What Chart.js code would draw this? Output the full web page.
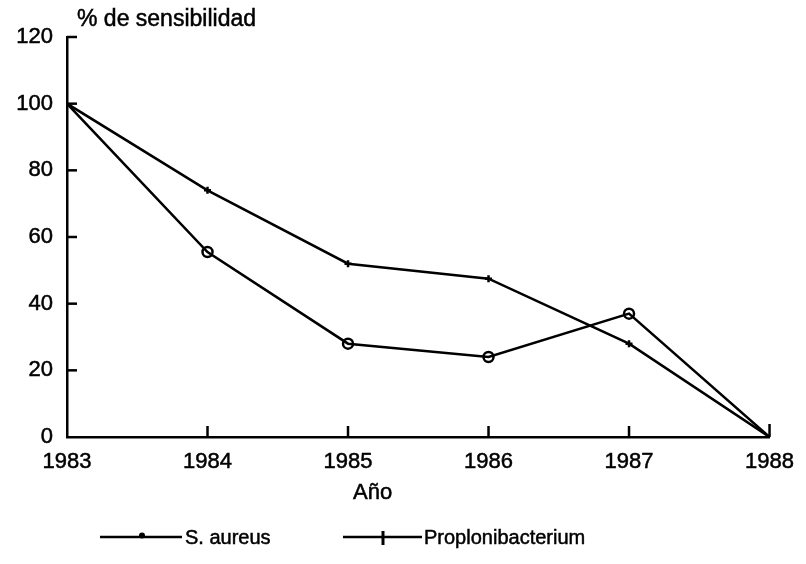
<!DOCTYPE html>
<html><head><meta charset="utf-8">
<script src="https://cdn.jsdelivr.net/npm/chart.js@4.4.0/dist/chart.umd.min.js"></script>
<style>html,body{margin:0;padding:0;background:#fff}#wrap{width:806px;height:564px}</style>
</head><body><div id="wrap"><canvas id="c" width="806" height="564"></canvas></div>
<script>
const years = [1983, 1984, 1985, 1986, 1987, 1988];
const sAureus = [100, 55.5, 28, 24, 37, 0];
const propioni = [100, 74, 52, 47.5, 28, 0];
const yTicks = [0, 20, 40, 60, 80, 100, 120];
const seriesNames = ['S. aureus', 'Proplonibacterium'];
const yTitle = '% de sensibilidad';
const xTitle = 'Año';

const FAM = '"Liberation Sans", Arial, Helvetica, sans-serif';

function boldText(ctx, txt, x, y) {
  ctx.lineWidth = 0.5;
  ctx.strokeText(txt, x, y);
  ctx.fillText(txt, x, y);
}

const decor = {
  id: 'decor',
  afterDraw(chart) {
    const ctx = chart.ctx;
    const xs = chart.scales.x, ys = chart.scales.y;
    const area = chart.chartArea;
    ctx.save();
    ctx.strokeStyle = '#000';
    ctx.fillStyle = '#000';
    ctx.lineWidth = 2.5;
    // inside tick marks on y axis
    yTicks.forEach(v => {
      if (v === 0) return;
      const y = ys.getPixelForValue(v);
      ctx.beginPath(); ctx.moveTo(area.left, y); ctx.lineTo(area.left + 10, y); ctx.stroke();
    });
    // inside tick marks on x axis
    years.forEach((v, i) => {
      if (i === 0) return;
      const x = xs.getPixelForValue(v);
      const len = i === years.length - 1 ? 13 : 11;
      ctx.beginPath(); ctx.moveTo(x, area.bottom); ctx.lineTo(x, area.bottom - len); ctx.stroke();
    });
    // titles
    ctx.font = '23px ' + FAM;
    ctx.textBaseline = 'alphabetic';
    ctx.textAlign = 'left';
    boldText(ctx, yTitle, area.left + 10, 26);
    ctx.font = '22px ' + FAM;
    boldText(ctx, xTitle, 353, 499);
    // legend
    const ly = 537;
    ctx.lineWidth = 2.5;
    ctx.beginPath(); ctx.moveTo(100, ly); ctx.lineTo(182, ly); ctx.stroke();
    ctx.beginPath(); ctx.arc(142, ly - 1.5, 3, 0, Math.PI * 2); ctx.fill();
    ctx.beginPath(); ctx.moveTo(343, ly); ctx.lineTo(422, ly); ctx.stroke();
    ctx.lineWidth = 3;
    ctx.beginPath(); ctx.moveTo(383, ly - 6); ctx.lineTo(383, ly + 8); ctx.stroke();
    ctx.font = '20px ' + FAM;
    boldText(ctx, seriesNames[0], 185, ly + 7);
    boldText(ctx, seriesNames[1], 424, ly + 7);
    ctx.restore();
  }
};

const tickFont = { size: 22, family: FAM };

new Chart(document.getElementById('c'), {
  type: 'line',
  data: {
    datasets: [
      {
        label: seriesNames[0],
        data: years.map((x, i) => ({x, y: sAureus[i]})),
        borderColor: '#000', borderWidth: 2.5, tension: 0, fill: false,
        pointStyle: 'circle',
        pointRadius: [0, 5, 5, 5, 5, 0],
        pointBorderWidth: 2.5,
        pointBorderColor: '#000',
        pointBackgroundColor: 'rgba(0,0,0,0)'
      },
      {
        label: seriesNames[1],
        data: years.map((x, i) => ({x, y: propioni[i]})),
        borderColor: '#000', borderWidth: 2.5, tension: 0, fill: false,
        pointStyle: 'cross',
        pointRadius: [0, 3.5, 3.5, 3.5, 3.5, 0],
        pointBorderWidth: 2.5,
        pointBorderColor: '#000',
        pointBackgroundColor: '#000'
      }
    ]
  },
  options: {
    responsive: false,
    animation: false,
    devicePixelRatio: 1,
    layout: { padding: { left: 0, right: 29, top: 37, bottom: 0 } },
    plugins: { legend: { display: false }, tooltip: { enabled: false }, title: { display: false } },
    scales: {
      x: {
        type: 'linear', min: years[0], max: years[years.length - 1],
        afterFit(s) { s.height = 127; },
        grid: { display: true, drawOnChartArea: false, drawTicks: false, color: '#000' },
        border: { display: true, color: '#000', width: 2.5 },
        ticks: { stepSize: 1, padding: 12, color: '#000', font: tickFont,
                 textStrokeColor: '#000', textStrokeWidth: 0.5,
                 callback: v => String(v), maxRotation: 0, autoSkip: false }
      },
      y: {
        min: yTicks[0], max: yTicks[yTicks.length - 1],
        afterFit(s) { s.width = 67; },
        afterBuildTicks(s) { s.ticks = yTicks.map(v => ({value: v})); },
        grid: { display: true, drawOnChartArea: false, drawTicks: false, color: '#000' },
        border: { display: true, color: '#000', width: 2.5 },
        ticks: { padding: 14, color: '#000', font: tickFont,
                 textStrokeColor: '#000', textStrokeWidth: 0.5 }
      }
    }
  },
  plugins: [decor]
});
</script></body></html>
